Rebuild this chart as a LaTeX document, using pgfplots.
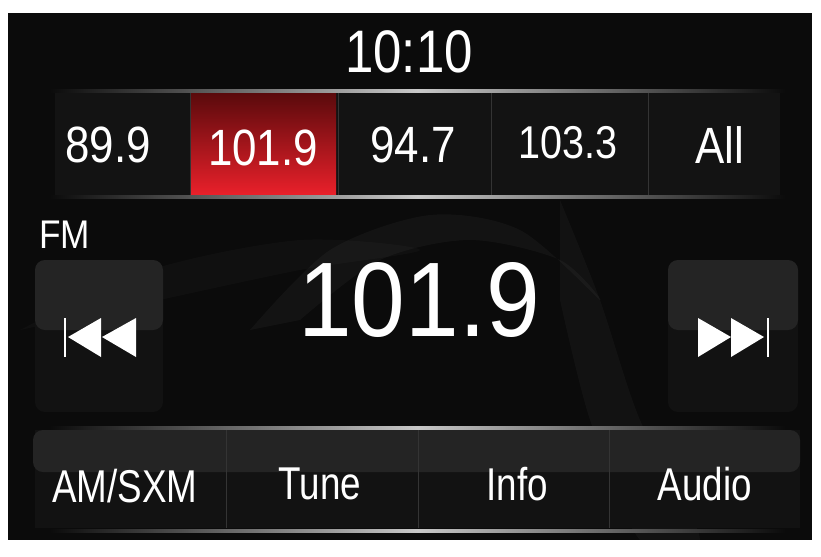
\documentclass[border=0pt]{standalone}
\usepackage{pgfplots}
\pgfplotsset{compat=1.18}
\usepackage{fontspec}
\setmainfont{Liberation Sans}
\definecolor{bg}{HTML}{0B0B0B}
\definecolor{cell}{HTML}{131313}
\definecolor{divc}{HTML}{343434}
\definecolor{btntop}{HTML}{242424}
\definecolor{btnbody}{HTML}{121212}
\definecolor{redtop}{HTML}{5A0A0C}
\definecolor{redbot}{HTML}{E8202A}
\definecolor{linec}{HTML}{C8C8C8}
\begin{document}
\begin{tikzpicture}
\begin{axis}[
  width=821pt, height=548pt, scale only axis,
  xmin=0, xmax=821, ymin=0, ymax=548, y dir=reverse,
  hide axis, clip=false, axis line style={draw=none}]
% page and panel
\addplot[fill=white, draw=none] coordinates {(0,0)(821,0)(821,548)(0,548)} --cycle;
\addplot[fill=bg, draw=none] coordinates {(8,13)(812,13)(812,540)(8,540)} --cycle;
% faint smoke
\addplot[fill=white, fill opacity=0.035, draw=none, smooth] coordinates {(250,330)(330,250)(430,215)(520,230)(600,300)(560,260)(470,240)(380,260)(300,320)} --cycle;
\addplot[fill=white, fill opacity=0.03, draw=none, smooth] coordinates {(560,200)(600,300)(640,420)(700,540)(640,540)(590,420)(560,300)} --cycle;
\addplot[fill=white, fill opacity=0.025, draw=none, smooth] coordinates {(20,330)(150,270)(300,240)(420,250)(300,270)(160,300)} --cycle;
% preset row cells
\addplot[fill=cell, draw=none] coordinates {(55,92)(780,92)(780,196)(55,196)} --cycle;
\addplot[draw=none, top color=redtop, bottom color=redbot] coordinates {(191,93)(336,93)(336,194)(191,194)} --cycle;
\addplot[divc, line width=1pt] coordinates {(190,93)(190,195)};
\addplot[divc, line width=1pt] coordinates {(338,93)(338,195)};
\addplot[divc, line width=1pt] coordinates {(491,93)(491,195)};
\addplot[divc, line width=1pt] coordinates {(648,93)(648,195)};
% horizontal divider lines
\addplot[draw=none, left color=bg, right color=bg, middle color=linec] coordinates {(50,89)(785,89)(785,92)(50,92)} --cycle;
\addplot[draw=none, left color=bg, right color=bg, middle color=linec] coordinates {(50,195)(785,195)(785,198)(50,198)} --cycle;
\addplot[draw=none, left color=bg, right color=bg, middle color=linec] coordinates {(50,426)(785,426)(785,429)(50,429)} --cycle;
\addplot[draw=none, left color=bg, right color=bg, middle color=linec] coordinates {(50,529)(785,529)(785,532)(50,532)} --cycle;
% side buttons
\addplot[fill=btnbody, draw=none, rounded corners=10pt] coordinates {(35,260)(163,260)(163,412)(35,412)} --cycle;
\addplot[fill=btntop, draw=none, rounded corners=10pt] coordinates {(35,260)(163,260)(163,330)(35,330)} --cycle;
\addplot[fill=btnbody, draw=none, rounded corners=10pt] coordinates {(668,260)(798,260)(798,412)(668,412)} --cycle;
\addplot[fill=btntop, draw=none, rounded corners=10pt] coordinates {(668,260)(798,260)(798,330)(668,330)} --cycle;
% prev icon
\addplot[white, line width=1.2pt] coordinates {(65,318)(65,357)};
\addplot[fill=white, draw=none] coordinates {(68,337)(101,318)(101,357)} --cycle;
\addplot[fill=white, draw=none] coordinates {(102,337)(136,318)(136,357)} --cycle;
% next icon
\addplot[fill=white, draw=none] coordinates {(698,318)(731,337)(698,357)} --cycle;
\addplot[fill=white, draw=none] coordinates {(731,318)(764,337)(731,357)} --cycle;
\addplot[white, line width=1.2pt] coordinates {(768,318)(768,357)};
% bottom bar
\addplot[fill=btnbody, draw=none] coordinates {(35,430)(800,430)(800,528)(35,528)} --cycle;
\addplot[fill=btntop, draw=none, rounded corners=10pt] coordinates {(33,430)(800,430)(800,472)(33,472)} --cycle;
\addplot[divc, line width=1pt] coordinates {(226,430)(226,528)};
\addplot[divc, line width=1pt] coordinates {(418,430)(418,528)};
\addplot[divc, line width=1pt] coordinates {(609,430)(609,528)};
% texts
\node[white, xscale=0.85, font=\fontsize{60}{60}\selectfont] at (axis cs:409,52) {10:10};
\node[white, xscale=0.86, font=\fontsize{51}{51}\selectfont] at (axis cs:108,145) {89.9};
\node[white, xscale=0.86, font=\fontsize{51}{51}\selectfont] at (axis cs:263,148) {101.9};
\node[white, xscale=0.86, font=\fontsize{51}{51}\selectfont] at (axis cs:413,145) {94.7};
\node[white, xscale=0.86, font=\fontsize{46}{46}\selectfont] at (axis cs:568,143) {103.3};
\node[white, xscale=0.86, font=\fontsize{51}{51}\selectfont] at (axis cs:720,145) {All};
\node[white, xscale=0.88, font=\fontsize{40}{40}\selectfont, anchor=west] at (axis cs:36,235) {FM};
\node[white, xscale=0.91, font=\fontsize{106}{106}\selectfont] at (axis cs:419,300) {101.9};
\node[white, xscale=0.80, font=\fontsize{46}{46}\selectfont] at (axis cs:125,486) {AM/SXM};
\node[white, xscale=0.80, font=\fontsize{46}{46}\selectfont] at (axis cs:320,484) {Tune};
\node[white, xscale=0.80, font=\fontsize{46}{46}\selectfont] at (axis cs:517,484) {Info};
\node[white, xscale=0.80, font=\fontsize{46}{46}\selectfont] at (axis cs:705,484) {Audio};
\end{axis}
\end{tikzpicture}
\end{document}
